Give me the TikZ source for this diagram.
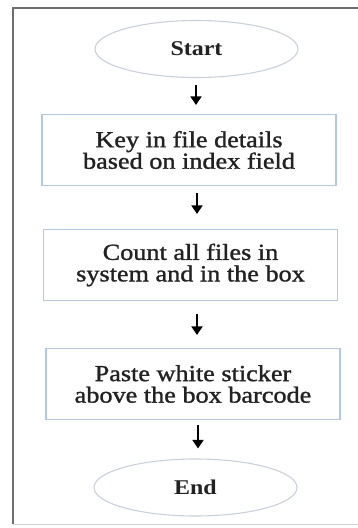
\documentclass[tikz,border=0pt]{standalone}
\usepackage{fontspec}
\setmainfont{Liberation Serif}[FakeStretch=1.14]
\newfontfamily\stepfont{Liberation Serif}[FakeStretch=1.14,FakeBold=1.3]
\usetikzlibrary{shapes.geometric,arrows.meta}

\tikzset{
  terminal/.style={ellipse, draw=ellipseline, line width=1.1pt,
    minimum width=203pt, minimum height=57pt, inner sep=0pt,
    font=\fontsize{21}{22}\selectfont\bfseries},
  stepbox/.style={rectangle, draw=boxline, line width=1.1pt,
    minimum width=294pt, minimum height=71pt, inner sep=0pt, align=center,
    font=\stepfont\fontsize{23}{21.5}\selectfont, text=textcol},
  flow/.style={line width=1.8pt, -{Triangle[length=8.5pt,width=11pt]}},
}
\definecolor{ellipseline}{HTML}{C9D0DB}
\definecolor{boxline}{HTML}{B4C8E2}
\definecolor{frameline}{HTML}{6E6E6E}
\definecolor{textcol}{HTML}{222222}

\begin{document}
\begin{tikzpicture}[x=1pt,y=-1pt]
  \useasboundingbox (0,0) rectangle (358,528);
  % outer frame
  \draw[frameline, line width=1.5pt] (13,524) -- (13,8) -- (358,8);
  \draw[gray!35, line width=0.8pt] (13,524) -- (358,524);

  \node[terminal, text=textcol] (start) at (196.5,49) {Start};
  \node[stepbox] (key) at (189,150) {Key in file details\\based on index field};
  \node[stepbox] (count) at (190.5,265) {Count all files in\\system and in the box};
  \node[stepbox] (paste) at (193,384) {Paste white sticker\\above the box barcode};
  \node[terminal, text=textcol] (end) at (195.5,487.5) {End};

  \draw[flow, shorten <=7pt, shorten >=9pt] (start.south -| 196,0) -- (key.north -| 196,0);
  \draw[flow, shorten <=7pt, shorten >=15pt] (key.south -| 197,0) -- (count.north -| 197,0);
  \draw[flow, shorten <=13pt, shorten >=13pt] (count.south -| 197,0) -- (paste.north -| 197,0);
  \draw[flow, shorten <=5pt, shorten >=10pt] (paste.south -| 198,0) -- (end.north -| 198,0);
\end{tikzpicture}
\end{document}
